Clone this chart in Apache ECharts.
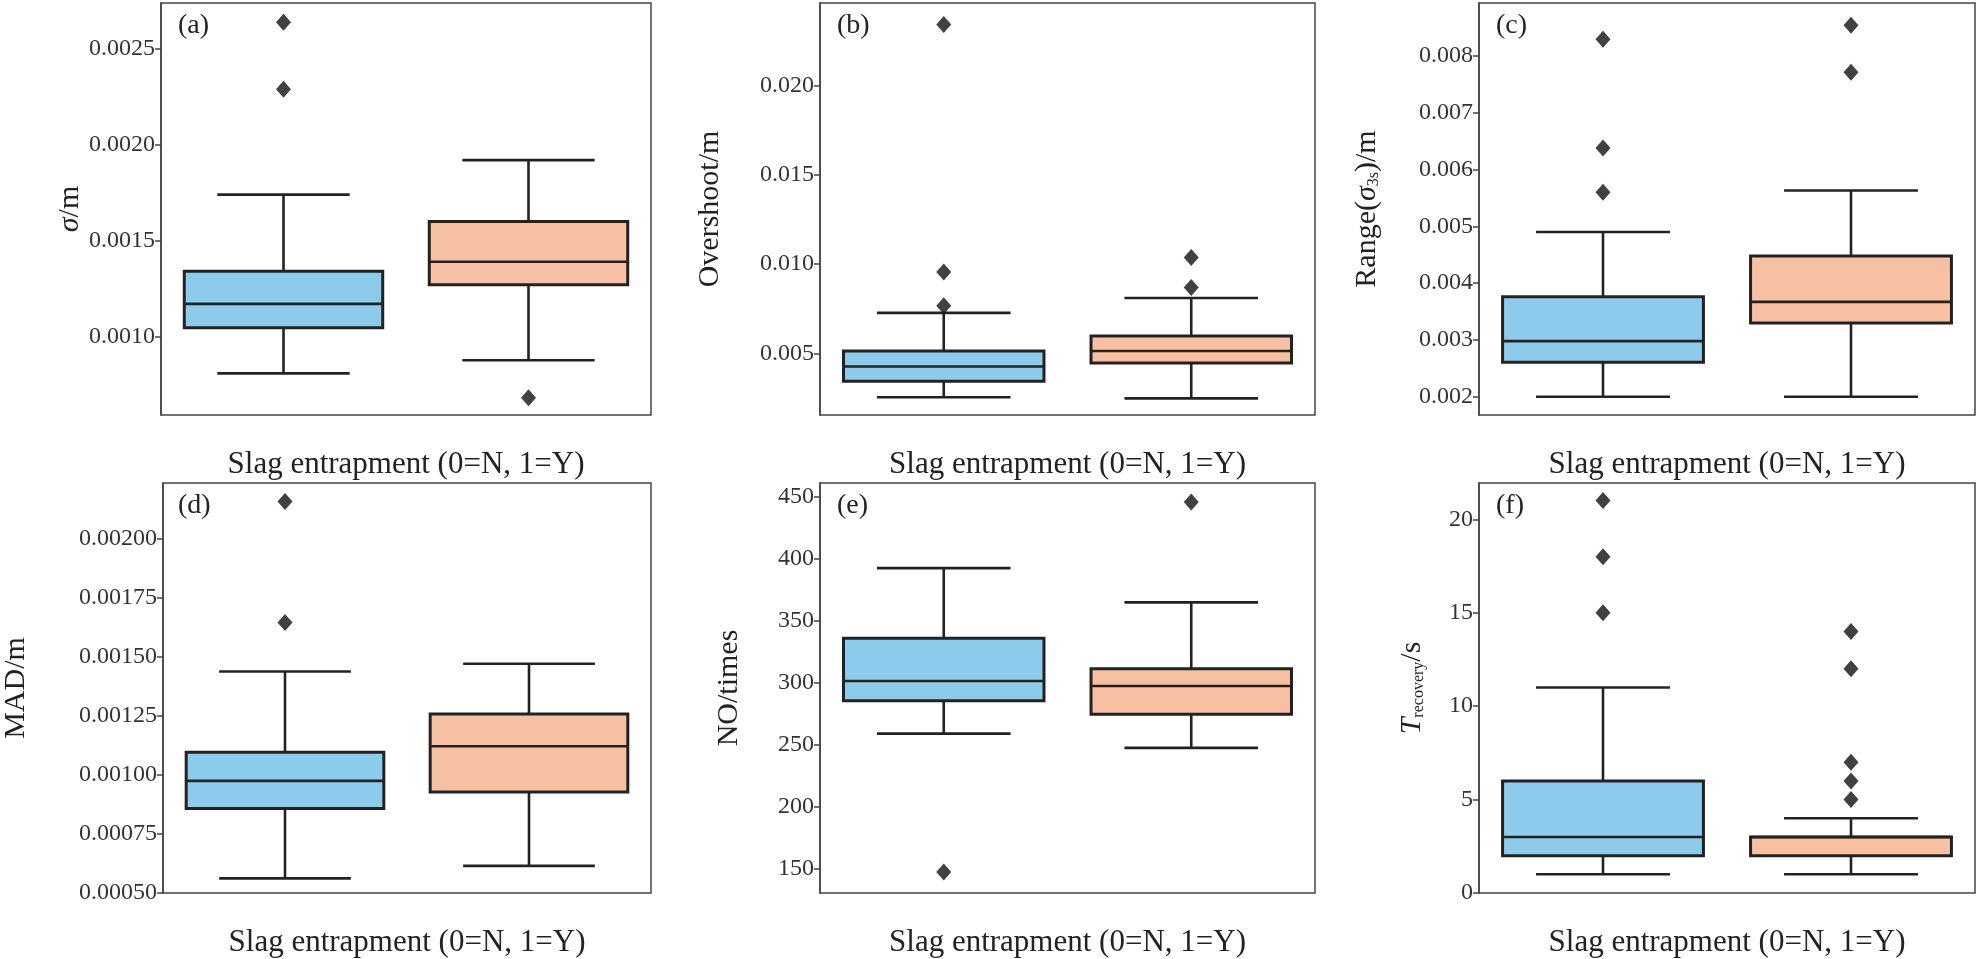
<!DOCTYPE html>
<html><head><meta charset="utf-8">
<script src="https://cdn.jsdelivr.net/npm/echarts@6/dist/echarts.min.js"></script>
<style>html,body{margin:0;padding:0;background:#fff}#c{width:1978px;height:959px}</style>
</head><body><div id="c"></div>
<script>
// Data: [low whisker, Q1, median, Q3, high whisker] for group 0 (N) and 1 (Y)
const categories = ['0', '1'];
const panelLabels = ['(a)', '(b)', '(c)', '(d)', '(e)', '(f)'];
const boxA = [[0.000807, 0.001045, 0.00117, 0.00134, 0.00174], [0.000876, 0.00127, 0.00139, 0.0016, 0.00192]];
const outA = [[0, 0.00229], [0, 0.00264], [1, 0.00068]];
const boxB = [[0.00256, 0.00346, 0.00428, 0.00515, 0.00728], [0.0025, 0.00448, 0.00515, 0.00598, 0.00811]];
const outB = [[0, 0.00767], [0, 0.00956], [0, 0.0234], [1, 0.0087], [1, 0.01037]];
const boxC = [[0.002, 0.00261, 0.00298, 0.00376, 0.0049], [0.002, 0.0033, 0.00367, 0.00448, 0.00563]];
const outC = [[0, 0.0056], [0, 0.00638], [0, 0.00829], [1, 0.00771], [1, 0.00854]];
const boxD = [[0.000559, 0.000856, 0.000973, 0.001094, 0.001437], [0.000612, 0.000926, 0.00112, 0.001257, 0.00147]];
const outD = [[0, 0.001645], [0, 0.002158]];
const boxE = [[258.8, 285.4, 301.3, 335.9, 392.6], [247.3, 274.5, 297.3, 311.2, 364.9]];
const outE = [[0, 147], [1, 446]];
const boxF = [[1, 2, 3, 6, 11], [1, 2, 3, 3, 4]];
const outF = [[0, 15], [0, 18], [0, 21], [1, 5], [1, 6], [1, 7], [1, 12], [1, 14]];
const ticksA = [0.0010, 0.0015, 0.0020, 0.0025];
const ticksB = [0.005, 0.010, 0.015, 0.020];
const ticksC = [0.002, 0.003, 0.004, 0.005, 0.006, 0.007, 0.008];
const ticksD = [0.0005, 0.00075, 0.001, 0.00125, 0.0015, 0.00175, 0.002];
const ticksE = [150, 200, 250, 300, 350, 400, 450];
const ticksF = [0, 5, 10, 15, 20];

const FONT = 'Liberation Serif';
const colors = ['#8DCBEC', '#F8C0A2'];
const cols = [[161, 651], [820, 1315], [1479, 1975]];
const rows = [[3, 415], [483, 898]];
const panels = [
  {box: boxA, out: outA, ticks: ticksA, dec: 4, min: 0.00059, max: 0.00274, name: '{i|σ}/m', gap: 70},
  {box: boxB, out: outB, ticks: ticksB, dec: 3, min: 0.00157, max: 0.0246, name: 'Overshoot/m', gap: 95},
  {box: boxC, out: outC, ticks: ticksC, dec: 3, min: 0.00168, max: 0.00893, name: 'Range({i|σ}{sub|3s})/m', gap: 97},
  {box: boxD, out: outD, ticks: ticksD, dec: 5, min: 0.000497, max: 0.002237, name: 'MAD/m', gap: 132},
  {box: boxE, out: outE, ticks: ticksE, dec: 0, min: 130, max: 461.4, name: 'NO/times', gap: 76},
  {box: boxF, out: outF, ticks: ticksF, dec: 0, min: 0, max: 21.94, name: '{i|T}{sub|recovery}/s', gap: 52}
];

const grid = [], xAxis = [], yAxis = [], series = [], title = [];
panels.forEach((p, k) => {
  const c = cols[k % 3], r = rows[Math.floor(k / 3)];
  grid.push({left: c[0], top: r[0], width: c[1] - c[0], height: r[1] - r[0], show: true,
    borderColor: '#444', borderWidth: 1.5, backgroundColor: '#fff'});
  xAxis.push({type: 'category', gridIndex: k, data: categories, boundaryGap: true,
    axisLine: {show: false}, axisTick: {show: false}, axisLabel: {show: false},
    name: 'Slag entrapment (0=N, 1=Y)', nameLocation: 'middle', nameGap: 34,
    nameTextStyle: {fontFamily: FONT, fontSize: 31, color: '#222'}});
  yAxis.push({type: 'value', gridIndex: k, min: p.min, max: p.max, splitLine: {show: false},
    axisLine: {show: true, lineStyle: {color: '#444', width: 1.5}},
    axisTick: {show: true, length: 6, inside: false, customValues: p.ticks, lineStyle: {color: '#444', width: 1.5}},
    axisLabel: {customValues: p.ticks, fontFamily: FONT, fontSize: 24, color: '#333', margin: 6,
      formatter: v => Number(v).toFixed(p.dec)},
    name: p.name, nameLocation: 'middle', nameGap: p.gap, nameRotate: 90,
    nameTextStyle: {fontFamily: FONT, fontSize: 30, color: '#222',
      rich: {i: {fontFamily: FONT, fontSize: 30, fontStyle: 'italic', color: '#222'},
             sub: {fontFamily: FONT, fontSize: 16, verticalAlign: 'bottom', padding: [12, 0, 0, 0], color: '#222'}}}});
  series.push({type: 'custom', xAxisIndex: k, yAxisIndex: k,
    data: p.box.map((b, i) => [i].concat(b)),
    renderItem: (params, api) => {
      const x = api.value(0);
      const band = api.size([1, 0])[0];
      const bw = band * 0.81, cw = band * 0.54;
      const pt = j => api.coord([x, api.value(j)]);
      const lo = pt(1), q1 = pt(2), md = pt(3), q3 = pt(4), hi = pt(5);
      const cx = lo[0];
      const ls = {stroke: '#222', lineWidth: 2.6, fill: null};
      return {type: 'group', children: [
        {type: 'line', shape: {x1: cx, y1: lo[1], x2: cx, y2: q1[1]}, style: ls},
        {type: 'line', shape: {x1: cx, y1: q3[1], x2: cx, y2: hi[1]}, style: ls},
        {type: 'line', shape: {x1: cx - cw / 2, y1: lo[1], x2: cx + cw / 2, y2: lo[1]}, style: ls},
        {type: 'line', shape: {x1: cx - cw / 2, y1: hi[1], x2: cx + cw / 2, y2: hi[1]}, style: ls},
        {type: 'rect', shape: {x: cx - bw / 2, y: q3[1], width: bw, height: q1[1] - q3[1]},
          style: {fill: colors[x], stroke: '#222', lineWidth: 3}},
        {type: 'line', shape: {x1: cx - bw / 2, y1: md[1], x2: cx + bw / 2, y2: md[1]}, style: ls}
      ]};
    }});
  series.push({type: 'scatter', xAxisIndex: k, yAxisIndex: k, data: p.out,
    symbol: 'diamond', symbolSize: [15, 17], itemStyle: {color: '#111'}});
  title.push({text: panelLabels[k], left: c[0] + 12, top: r[0] + 4,
    textStyle: {fontFamily: FONT, fontSize: 28, fontWeight: 'normal', color: '#222'}});
});

const chart = echarts.init(document.getElementById('c'));
chart.setOption({animation: false, backgroundColor: '#fff', title, grid, xAxis, yAxis, series});
</script></body></html>
